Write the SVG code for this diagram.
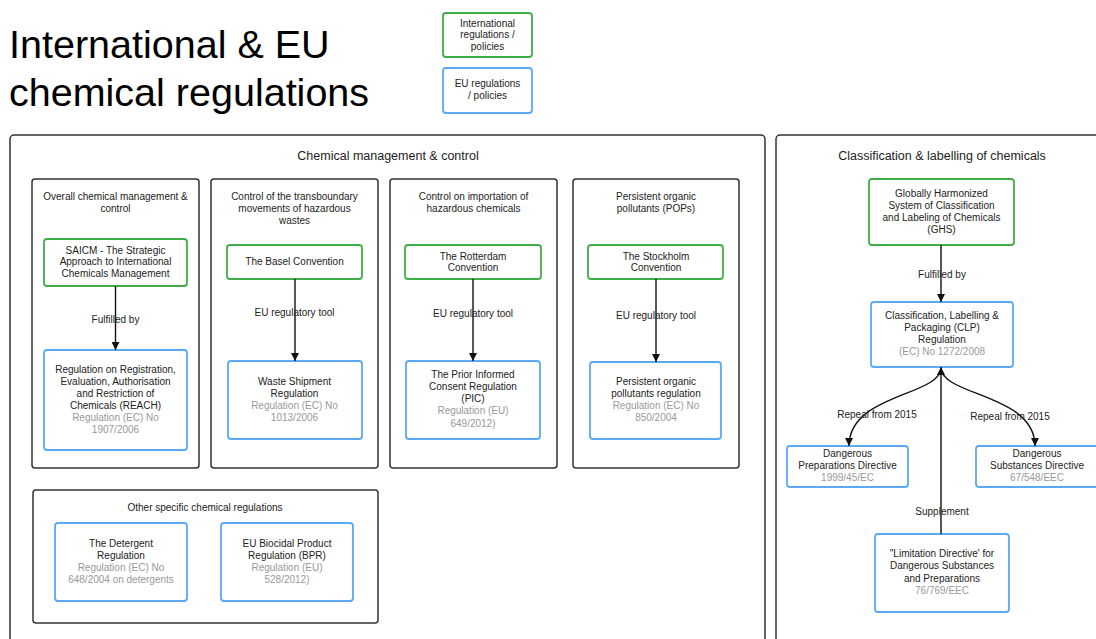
<svg xmlns="http://www.w3.org/2000/svg" width="1096" height="639" viewBox="0 0 1096 639">
<defs>
<style>
text{font-family:"Liberation Sans",Arial,sans-serif;font-size:10px;fill:#222;text-anchor:middle}
.title{font-size:39.5px;text-anchor:start;fill:#000}
.ptitle{font-size:12.5px}
.g{fill:#999}
.panel{fill:#fff;stroke:#333;stroke-width:1.5}
.col{fill:#fff;stroke:#333;stroke-width:1.5}
.intl{fill:#fff;stroke:#3FAE49;stroke-width:1.8}
.eu{fill:#fff;stroke:#5BA8F5;stroke-width:1.8}
.conn{fill:none;stroke:#111;stroke-width:1.4}
</style>
<marker id="arr" viewBox="0 0 10 10" refX="10" refY="5" markerWidth="8" markerHeight="8" markerUnits="userSpaceOnUse" orient="auto">
<path d="M0,0 L10,5 L0,10 z" fill="#111"/>
</marker>
</defs>
<rect width="1096" height="639" fill="#fff"/>

<g id="title">
<text class="title" x="9" y="58">International &amp; EU</text>
<text class="title" x="9" y="106">chemical regulations</text>
</g>

<g id="legend-intl">
<rect class="intl" x="443" y="13" width="89" height="44" rx="3"/>
<text x="487.5" y="26.5">International</text>
<text x="487.5" y="38">regulations /</text>
<text x="487.5" y="49.5">policies</text>
</g>
<g id="legend-eu">
<rect class="eu" x="443" y="68" width="89" height="45" rx="3"/>
<text x="487.5" y="86.5">EU regulations</text>
<text x="487.5" y="99">/ policies</text>
</g>

<g id="panel-management">
<rect class="panel" x="10" y="135" width="755" height="520" rx="4"/>
<text class="ptitle" x="388" y="160">Chemical management &amp; control</text>
</g>
<g id="panel-classification">
<rect class="panel" x="776" y="135" width="340" height="520" rx="4"/>
<text class="ptitle" x="942" y="160">Classification &amp; labelling of chemicals</text>
</g>

<g id="col-overall">
<rect class="col" x="32" y="179" width="167" height="289" rx="3"/>
<text x="115.5" y="199.5">Overall chemical management &amp;</text>
<text x="115.5" y="211.5">control</text>
</g>
<g id="col-transboundary">
<rect class="col" x="211" y="179" width="167" height="289" rx="3"/>
<text x="294.5" y="199.5">Control of the transboundary</text>
<text x="294.5" y="211.5">movements of hazardous</text>
<text x="294.5" y="223.5">wastes</text>
</g>
<g id="col-importation">
<rect class="col" x="390" y="179" width="167" height="289" rx="3"/>
<text x="473.5" y="199.5">Control on importation of</text>
<text x="473.5" y="211.5">hazardous chemicals</text>
</g>
<g id="col-pops">
<rect class="col" x="573" y="179" width="166" height="289" rx="3"/>
<text x="656" y="199.5">Persistent organic</text>
<text x="656" y="211.5">pollutants (POPs)</text>
</g>
<g id="col-other">
<rect class="col" x="33" y="490" width="345" height="133" rx="3"/>
<text x="205" y="510.5">Other specific chemical regulations</text>
</g>

<g id="saicm">
<rect class="intl" x="44" y="239" width="143" height="47" rx="3"/>
<text x="115.5" y="253.5">SAICM - The Strategic</text>
<text x="115.5" y="265">Approach to International</text>
<text x="115.5" y="276.5">Chemicals Management</text>
</g>
<g id="reach">
<rect class="eu" x="44" y="350" width="143" height="100" rx="3"/>
<text x="115.5" y="372.5">Regulation on Registration,</text>
<text x="115.5" y="384.5">Evaluation, Authorisation</text>
<text x="115.5" y="396.5">and Restriction of</text>
<text x="115.5" y="408.5">Chemicals (REACH)</text>
<text class="g" x="115.5" y="420.5">Regulation (EC) No</text>
<text class="g" x="115.5" y="432.5">1907/2006</text>
</g>

<g id="basel">
<rect class="intl" x="227" y="245" width="135" height="34" rx="3"/>
<text x="294.5" y="264.5">The Basel Convention</text>
</g>
<g id="waste">
<rect class="eu" x="228" y="361" width="134" height="78" rx="3"/>
<text x="294.5" y="384.5">Waste Shipment</text>
<text x="294.5" y="396.5">Regulation</text>
<text class="g" x="294.5" y="408.5">Regulation (EC) No</text>
<text class="g" x="294.5" y="420.5">1013/2006</text>
</g>

<g id="rotterdam">
<rect class="intl" x="405" y="245" width="136" height="34" rx="3"/>
<text x="473" y="259.5">The Rotterdam</text>
<text x="473" y="271">Convention</text>
</g>
<g id="pic">
<rect class="eu" x="406" y="361" width="134" height="78" rx="3"/>
<text x="473" y="377.5">The Prior Informed</text>
<text x="473" y="390">Consent Regulation</text>
<text x="473" y="402">(PIC)</text>
<text class="g" x="473" y="414">Regulation (EU)</text>
<text class="g" x="473" y="426.5">649/2012)</text>
</g>

<g id="stockholm">
<rect class="intl" x="588" y="245" width="135" height="34" rx="3"/>
<text x="656" y="259.5">The Stockholm</text>
<text x="656" y="271">Convention</text>
</g>
<g id="pops">
<rect class="eu" x="590" y="362" width="131" height="77" rx="3"/>
<text x="656" y="384.5">Persistent organic</text>
<text x="656" y="396.5">pollutants regulation</text>
<text class="g" x="656" y="408.5">Regulation (EC) No</text>
<text class="g" x="656" y="420.5">850/2004</text>
</g>

<g id="detergent">
<rect class="eu" x="55" y="523" width="132" height="78" rx="3"/>
<text x="121" y="546.5">The Detergent</text>
<text x="121" y="558.5">Regulation</text>
<text class="g" x="121" y="570.5">Regulation (EC) No</text>
<text class="g" x="121" y="582.5">648/2004 on detergents</text>
</g>
<g id="bpr">
<rect class="eu" x="221" y="523" width="132" height="78" rx="3"/>
<text x="287" y="546.5">EU Biocidal Product</text>
<text x="287" y="558.5">Regulation (BPR)</text>
<text class="g" x="287" y="570.5">Regulation (EU)</text>
<text class="g" x="287" y="582.5">528/2012)</text>
</g>

<g id="ghs">
<rect class="intl" x="869" y="179" width="145" height="66" rx="3"/>
<text x="941.5" y="196.5">Globally Harmonized</text>
<text x="941.5" y="208.5">System of Classification</text>
<text x="941.5" y="220.5">and Labeling of Chemicals</text>
<text x="941.5" y="232.5">(GHS)</text>
</g>
<g id="clp">
<rect class="eu" x="871" y="302" width="142" height="65" rx="3"/>
<text x="942" y="318.5">Classification, Labelling &amp;</text>
<text x="942" y="330.5">Packaging (CLP)</text>
<text x="942" y="342.5">Regulation</text>
<text class="g" x="942" y="354.5">(EC) No 1272/2008</text>
</g>
<g id="dpd">
<rect class="eu" x="787" y="446" width="121" height="41" rx="3"/>
<text x="847.5" y="456.5">Dangerous</text>
<text x="847.5" y="469">Preparations Directive</text>
<text class="g" x="847.5" y="480.5">1999/45/EC</text>
</g>
<g id="dsd">
<rect class="eu" x="976" y="446" width="125" height="41" rx="3"/>
<text x="1037" y="456.5">Dangerous</text>
<text x="1037" y="469">Substances Directive</text>
<text class="g" x="1037" y="480.5">67/548/EEC</text>
</g>
<g id="limitation">
<rect class="eu" x="875" y="534" width="134" height="78" rx="3"/>
<text x="942" y="556.5">"Limitation Directive' for</text>
<text x="942" y="569">Dangerous Substances</text>
<text x="942" y="581.5">and Preparations</text>
<text class="g" x="942" y="593.5">76/769/EEC</text>
</g>

<g id="connectors">
<path class="conn" d="M115.5,286 L115.5,350" marker-end="url(#arr)"/>
<text x="115.5" y="322.5">Fulfilled by</text>
<path class="conn" d="M295,279 L295,361" marker-end="url(#arr)"/>
<text x="294.5" y="315.5">EU regulatory tool</text>
<path class="conn" d="M473,279 L473,361" marker-end="url(#arr)"/>
<text x="473" y="316.5">EU regulatory tool</text>
<path class="conn" d="M656,279 L656,362" marker-end="url(#arr)"/>
<text x="656" y="318.5">EU regulatory tool</text>
<path class="conn" d="M941,245 L941,302" marker-end="url(#arr)"/>
<text x="942" y="277.5">Fulfilled by</text>
<path class="conn" d="M941,534 L941,367" marker-end="url(#arr)"/>
<text x="942" y="514.5">Supplement</text>
<path class="conn" d="M941,368 C940,396 849,394 849,446" marker-end="url(#arr)"/>
<text x="877" y="417.5">Repeal from 2015</text>
<path class="conn" d="M941,368 C942,396 1035,394 1035,446" marker-end="url(#arr)"/>
<text x="1010" y="419.5">Repeal from 2015</text>
</g>
</svg>
